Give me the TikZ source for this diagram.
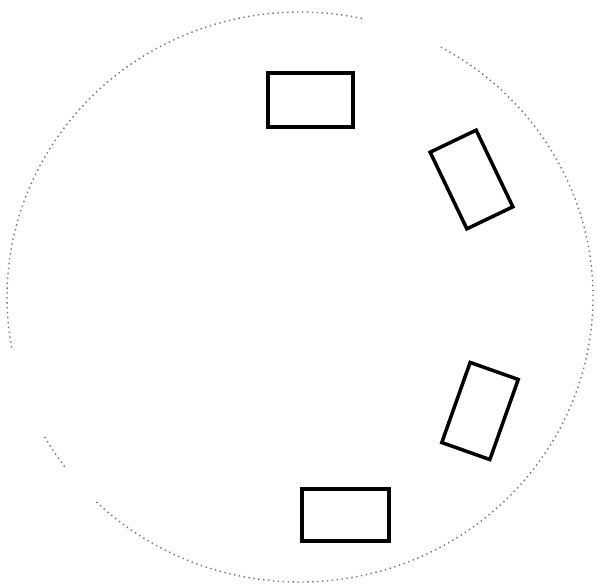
\documentclass[tikz,border=0pt]{standalone}
\begin{document}
\begin{tikzpicture}[x=0.02cm,y=0.02cm,
  boxshape/.style={draw=black,line width=2pt,rectangle,inner sep=0pt,outer sep=0pt},
  rimline/.style={draw=black!55,dotted,line width=0.8pt}]
\useasboundingbox (0,0) rectangle (597,585);
\coordinate (c) at (300,288);
\draw[rimline] (c) ++(77.8:293 and 285) arc[start angle=77.8,end angle=190.6,x radius=293,y radius=285];
\draw[rimline] (c) ++(209.4:293 and 285) arc[start angle=209.4,end angle=217,x radius=293,y radius=285];
\draw[rimline] (c) ++(226:293 and 285) arc[start angle=226,end angle=421.3,x radius=293,y radius=285];
\node[boxshape,minimum width=1.7cm,minimum height=1.08cm] (b1) at (310.5,485) {};
\node[boxshape,minimum width=1.02cm,minimum height=1.7cm,rotate=25.6] (b2) at (471.5,405.5) {};
\node[boxshape,minimum width=1.02cm,minimum height=1.7cm,rotate=-19.5] (b3) at (480,174) {};
\node[boxshape,minimum width=1.74cm,minimum height=1.04cm] (b4) at (345.5,70) {};
\end{tikzpicture}
\end{document}
